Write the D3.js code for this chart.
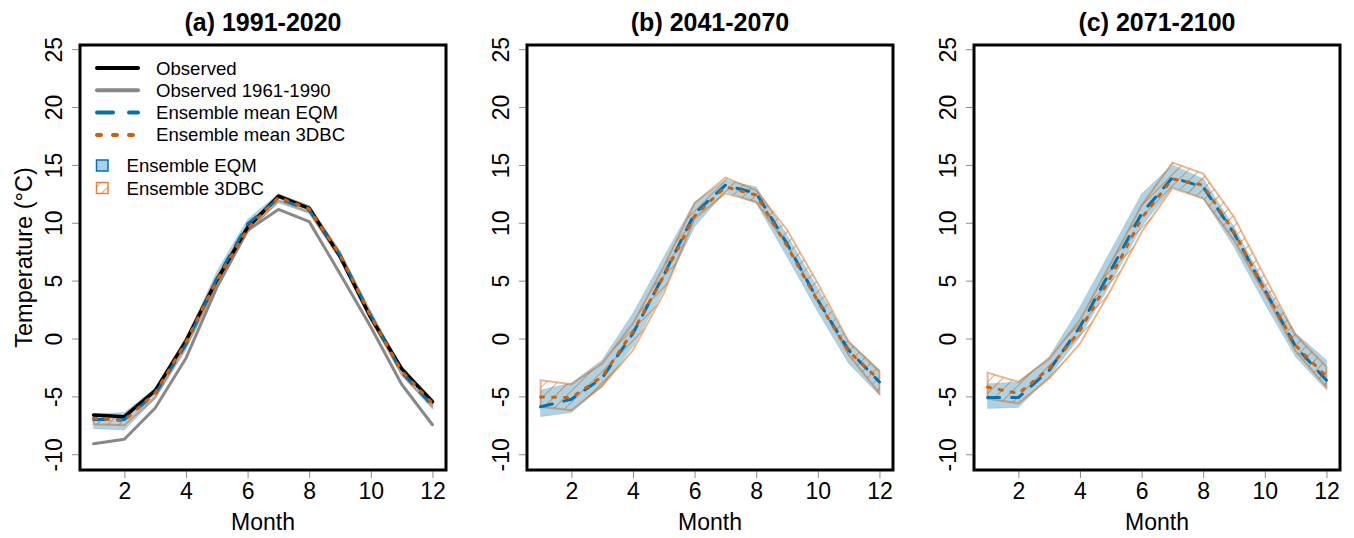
<!DOCTYPE html>
<html>
  <head>
    <meta charset="utf-8">
    <title>monthly temperature</title>
    <script src="https://d3js.org/d3.v7.min.js"></script>
    <style>
      body { margin: 0; background: #fff; }
      text { font-family: "Liberation Sans", Arial, sans-serif; }
    </style>
  </head>
  <body>
  <script>
  // Data
    var months = [1, 2, 3, 4, 5, 6, 7, 8, 9, 10, 11, 12];
    var xTicks = [2, 4, 6, 8, 10, 12];
    var yTicks = [-10, -5, 0, 5, 10, 15, 20, 25];
    var titles = ["(a) 1991-2020", "(b) 2041-2070", "(c) 2071-2100"];

    var observed = [-6.6, -6.75, -4.5, -0.2, 5.05, 9.6, 12.3, 11.25, 7.1, 1.8, -2.6, -5.45];
    var observed6190 = [-9.1, -8.7, -6.0, -1.7, 4.4, 9.35, 11.15, 10.1, 5.6, 1.0, -3.95, -7.45];

    var eqmMeanA = [-7.0, -7.0, -4.8, -0.5, 5.2, 9.9, 12.1, 11.1, 7.2, 2.0, -2.9, -5.8];
    var dbcMeanA = [-6.9, -7.1, -4.7, -0.3, 5.0, 9.5, 12.2, 11.2, 7.2, 1.9, -2.8, -5.6];
    var eqmLoA = [-7.8, -7.9, -5.2, -1.0, 4.5, 9.2, 11.7, 10.8, 6.9, 1.6, -3.2, -6.1];
    var eqmHiA = [-6.5, -6.4, -4.3, 0.0, 5.8, 10.3, 12.5, 11.5, 7.6, 2.4, -2.5, -5.3];
    var dbcLoA = [-7.4, -7.5, -5.1, -0.7, 4.6, 9.2, 11.9, 10.9, 6.9, 1.6, -3.1, -5.9];
    var dbcHiA = [-6.6, -6.8, -4.4, 0.0, 5.3, 9.8, 12.4, 11.4, 7.4, 2.1, -2.6, -5.3];

    var eqmMeanB = [-5.9, -5.25, -3.4, 0.45, 5.5, 10.8, 13.25, 12.55, 8.2, 3.3, -1.0, -3.75];
    var dbcMeanB = [-5.05, -5.1, -3.3, 0.6, 5.4, 10.6, 13.1, 12.4, 8.0, 3.2, -1.1, -3.6];
    var eqmLoB = [-6.75, -6.4, -4.15, -0.7, 4.2, 9.65, 12.7, 11.7, 7.05, 2.3, -2.15, -4.9];
    var eqmHiB = [-4.45, -3.85, -1.85, 2.2, 7.05, 11.8, 13.7, 13.1, 8.95, 4.35, -0.25, -2.7];
    var dbcLoB = [-5.9, -6.2, -4.1, -1.0, 3.9, 10.4, 12.55, 11.8, 8.1, 3.35, -1.4, -4.75];
    var dbcHiB = [-3.6, -3.95, -2.15, 1.3, 6.2, 11.7, 13.9, 12.8, 9.4, 4.75, -0.25, -2.85];

    var eqmMeanC = [-5.1, -5.1, -2.75, 1.0, 5.9, 10.8, 13.9, 13.1, 9.1, 4.2, -0.7, -3.6];
    var dbcMeanC = [-4.2, -4.75, -2.6, 0.7, 5.3, 10.4, 13.8, 13.25, 9.2, 4.2, -0.6, -3.3];
    var eqmLoC = [-6.05, -5.95, -3.3, 0.15, 4.75, 9.65, 13.1, 12.1, 7.9, 3.0, -1.6, -4.45];
    var eqmHiC = [-3.9, -3.75, -1.6, 2.75, 7.6, 12.5, 15.0, 13.8, 9.65, 4.75, 0.45, -1.85];
    var dbcLoC = [-5.2, -5.6, -3.45, -0.45, 4.2, 9.2, 13.0, 12.1, 8.5, 3.9, -1.1, -4.2];
    var dbcHiC = [-2.95, -3.75, -1.75, 1.6, 6.5, 11.5, 15.2, 14.25, 10.5, 5.35, 0.3, -2.45];

  // Basic setting
    var width = 1354, height = 538;
    var panelLeft = [80, 527, 974];
    var panelW = 366;
    var plotTop = 45, plotBottom = 470;

    var blue = "#0072B2", orange = "#D55E00";

    var panels = [
      { eqmMean: eqmMeanA, dbcMean: dbcMeanA, eqmLo: eqmLoA, eqmHi: eqmHiA, dbcLo: dbcLoA, dbcHi: dbcHiA, obs: true },
      { eqmMean: eqmMeanB, dbcMean: dbcMeanB, eqmLo: eqmLoB, eqmHi: eqmHiB, dbcLo: dbcLoB, dbcHi: dbcHiB, obs: false },
      { eqmMean: eqmMeanC, dbcMean: dbcMeanC, eqmLo: eqmLoC, eqmHi: eqmHiC, dbcLo: dbcLoC, dbcHi: dbcHiC, obs: false }
    ];

    var svg = d3.select("body").append("svg")
        .attr("width", width)
        .attr("height", height);

    // hatch pattern for 3DBC band
    var defs = svg.append("defs");
    defs.append("pattern")
        .attr("id", "hatch")
        .attr("patternUnits", "userSpaceOnUse")
        .attr("width", 8).attr("height", 8)
        .attr("patternTransform", "rotate(45)")
      .append("line")
        .attr("x1", 0).attr("y1", 0).attr("x2", 0).attr("y2", 8)
        .attr("stroke", orange).attr("stroke-opacity", 0.55)
        .attr("stroke-width", 2);

    var y = d3.scaleLinear().domain([-11.36, 25.36]).range([plotBottom, plotTop]);

    panels.forEach(function(p, i) {
      var left = panelLeft[i];
      var x = d3.scaleLinear().domain([0.56, 12.44]).range([left, left + panelW]);
      var g = svg.append("g");

      var area = function(lo, hi) {
        return d3.area()
          .x(function(d, j) { return x(months[j]); })
          .y0(function(d, j) { return y(lo[j]); })
          .y1(function(d, j) { return y(hi[j]); })(months);
      };
      var line = function(vals) {
        return d3.line()
          .x(function(d, j) { return x(months[j]); })
          .y(function(d) { return y(d); })(vals);
      };

      // bands
      g.append("path").attr("d", area(p.eqmLo, p.eqmHi))
        .attr("fill", blue).attr("fill-opacity", 0.32)
        .attr("stroke", blue).attr("stroke-opacity", 0.15).attr("stroke-width", 1);
      g.append("path").attr("d", area(p.dbcLo, p.dbcHi))
        .attr("fill", "url(#hatch)")
        .attr("stroke", orange).attr("stroke-opacity", 0.45).attr("stroke-width", 2);

      // lines
      if (p.obs) {
        g.append("path").attr("d", line(observed6190))
          .attr("fill", "none").attr("stroke", "#888").attr("stroke-width", 3)
          .attr("stroke-linejoin", "round").attr("stroke-linecap", "round");
        g.append("path").attr("d", line(observed))
          .attr("fill", "none").attr("stroke", "#000").attr("stroke-width", 3.5)
          .attr("stroke-linejoin", "round").attr("stroke-linecap", "round");
      }
      g.append("path").attr("d", line(p.eqmMean))
        .attr("fill", "none").attr("stroke", blue).attr("stroke-width", 3)
        .attr("stroke-dasharray", "12,12").attr("stroke-linecap", "round")
        .attr("stroke-linejoin", "round");
      g.append("path").attr("d", line(p.dbcMean))
        .attr("fill", "none").attr("stroke", orange).attr("stroke-width", 3)
        .attr("stroke-dasharray", "3,9").attr("stroke-linecap", "round")
        .attr("stroke-linejoin", "round");

      // axes
      var xAxis = g.append("g")
        .attr("transform", "translate(0," + plotBottom + ")")
        .call(d3.axisBottom(x).tickValues(xTicks).tickSize(8).tickPadding(6).tickFormat(String));
      var yAxis = g.append("g")
        .attr("transform", "translate(" + left + ",0)")
        .call(d3.axisLeft(y).tickValues(yTicks).tickSize(8).tickPadding(0).tickFormat(String));
      [xAxis, yAxis].forEach(function(a) {
        a.select(".domain").remove();
        a.selectAll(".tick line").attr("stroke", "#8c8c8c");
        a.selectAll(".tick text").attr("fill", "#000").style("font-size", "23px")
          .style("font-family", "'Liberation Sans', Arial, sans-serif");
      });
      xAxis.selectAll(".tick text").attr("y", 0).attr("dy", 0).attr("transform", "translate(0,29)");
      yAxis.selectAll(".tick text")
        .attr("x", 0).attr("dy", 0)
        .attr("text-anchor", "middle")
        .attr("transform", "translate(-18,0) rotate(-90)");

      // box
      g.append("rect")
        .attr("x", left).attr("y", plotTop)
        .attr("width", panelW).attr("height", plotBottom - plotTop)
        .attr("fill", "none").attr("stroke", "#000").attr("stroke-width", 3);

      // titles
      g.append("text")
        .attr("x", left + panelW / 2).attr("y", 31)
        .attr("text-anchor", "middle")
        .style("font-size", "25px").style("font-weight", "bold")
        .text(titles[i]);
      g.append("text")
        .attr("x", left + panelW / 2).attr("y", 530)
        .attr("text-anchor", "middle")
        .style("font-size", "23px")
        .text("Month");
    });

    // y label
    svg.append("text")
      .attr("transform", "translate(32," + ((plotTop + plotBottom) / 2) + ") rotate(-90)")
      .attr("text-anchor", "middle")
      .style("font-size", "23.5px")
      .text("Temperature (°C)");

    // legend
    var legendLines = [
      { label: "Observed", color: "#000", dash: null, w: 4 },
      { label: "Observed 1961-1990", color: "#888", dash: null, w: 4 },
      { label: "Ensemble mean EQM", color: blue, dash: "16,16", w: 4 },
      { label: "Ensemble mean 3DBC", color: orange, dash: "4,12", w: 4 }
    ];
    var leg = svg.append("g");
    legendLines.forEach(function(l, k) {
      var ly = 68 + k * 22.3;
      leg.append("line")
        .attr("x1", 97).attr("x2", 138).attr("y1", ly).attr("y2", ly)
        .attr("stroke", l.color).attr("stroke-width", l.w)
        .attr("stroke-linecap", "round")
        .attr("stroke-dasharray", l.dash);
      leg.append("text")
        .attr("x", 156).attr("y", ly + 6.5)
        .style("font-size", "18.6px")
        .text(l.label);
    });
    var legendBoxes = [
      { label: "Ensemble EQM", fill: "#a9d0e7", stroke: blue },
      { label: "Ensemble 3DBC", fill: "url(#hatch)", stroke: "#E8823A" }
    ];
    legendBoxes.forEach(function(b, k) {
      var by = 165.5 + k * 22.5;
      leg.append("rect")
        .attr("x", 96.5).attr("y", by - 5.5)
        .attr("width", 11.5).attr("height", 11)
        .attr("fill", b.fill).attr("stroke", b.stroke).attr("stroke-width", 1.5);
      leg.append("text")
        .attr("x", 126.5).attr("y", by + 6.5)
        .style("font-size", "18.6px")
        .text(b.label);
    });
  </script>
  </body>
</html>
